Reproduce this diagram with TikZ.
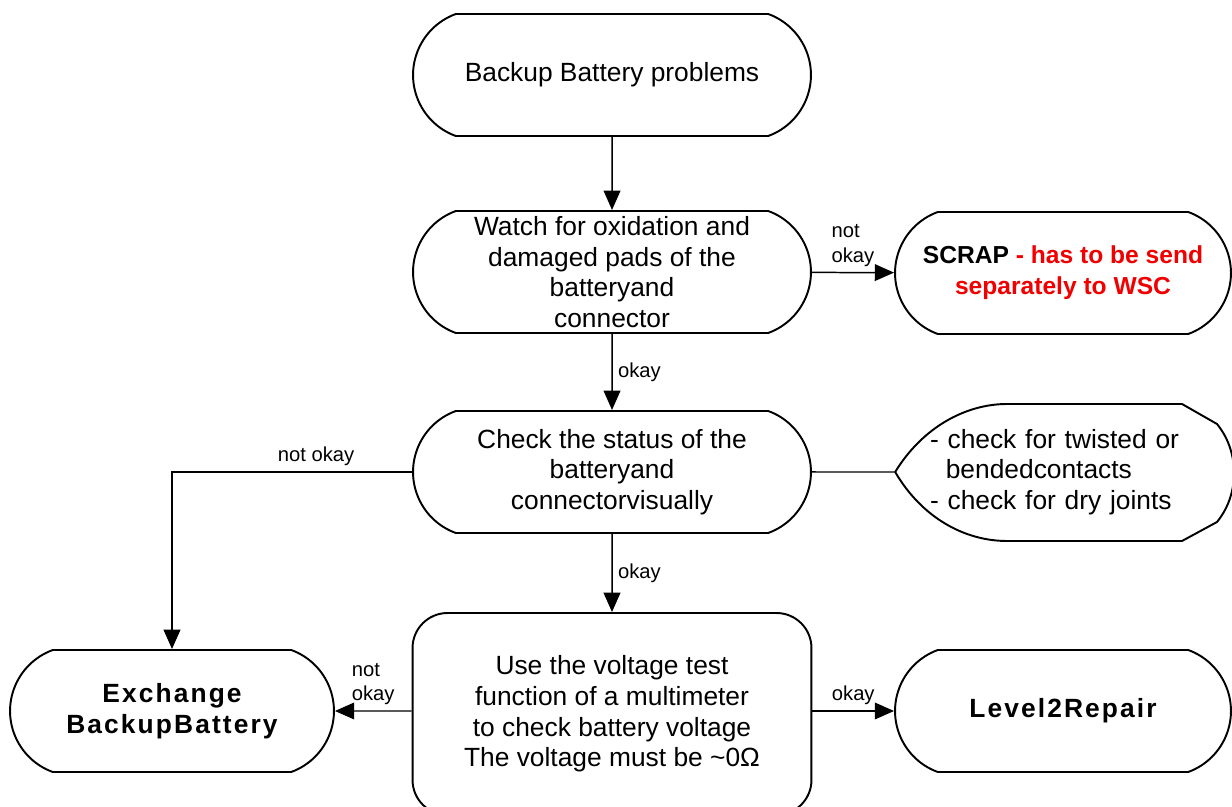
\documentclass[tikz,border=0pt]{standalone}
\usepackage{fontspec}
\setmainfont{Liberation Sans}
\newfontfamily\boldfam[LetterSpace=8]{Liberation Sans}
\usepackage{xcolor}
\usetikzlibrary{arrows.meta,calc,positioning,shapes}
\definecolor{scrapred}{RGB}{240,0,0}

\begin{document}
\begin{tikzpicture}[x=0.02cm,y=-0.02cm,
	box/.style={draw,line width=1.1pt,rounded rectangle,rounded rectangle arc length=140,
		minimum width=8.1cm,minimum height=2.44cm,inner sep=2pt,align=center,
		font=\fontsize{15}{17.5}\selectfont},
	tallbox/.style={draw,line width=1.1pt,rectangle,rounded corners=0.7cm,
		minimum width=7.98cm,minimum height=4.04cm,inner sep=2pt,align=center,
		font=\fontsize{15}{17.5}\selectfont},
	sidebox/.style={box,minimum width=6.86cm},
	boldtext/.style={font=\fontsize{15}{17.5}\selectfont\boldfam\bfseries},
	lbl/.style={font=\fontsize{11.5}{14}\selectfont,inner sep=3pt,align=left},
	flow/.style={line width=0.85pt,-{Triangle[length=11pt,width=9.5pt]}}]
	\useasboundingbox (0,0) rectangle (1232,807);
	\node[box]			(start)	at (612,75)		{Backup Battery problems};
	\node[box]			(watch)	at (612,272)	{Watch for oxidation and\\damaged pads of the\\batteryand\\connector};
	\node[sidebox,font=\fontsize{14}{17.5}\selectfont\bfseries]
						(scrap)	at (1063,273)	{SCRAP \textcolor{scrapred}{- has to be send}\\\textcolor{scrapred}{separately to WSC}};
	\node[box]			(check)	at (612,472)	{Check the status of the\\batteryand\\connectorvisually};
	\node[align=left,minimum width=6.74cm,text width=5.36cm,inner sep=0pt,font=\fontsize{15}{17.5}\selectfont]
						(dry)	at (1064,472)	{- check for twisted or\\\hspace*{0.6em}bendedcontacts\\- check for dry joints};
	\node[tallbox]		(volt)	at (612,714)	{Use the voltage test\\function of a multimeter\\to check battery voltage\\The voltage must be \textasciitilde 0Ω};
	\node[box,boldtext,minimum width=6.62cm]	(exch)	at (172,711)	{Exchange\\BackupBattery};
	\node[sidebox,boldtext]	(level)	at (1063,711)	{Level2Repair};
	\draw[line width=1.1pt] (dry.west) .. controls (922,428) and (965,404) .. (1007,404) -- (1182,404) -- (1217,424)
		.. controls (1230,440) and (1234,458) .. (1234,473) .. controls (1234,488) and (1230,506) .. (1217,522)
		-- (1182,541) -- (1007,541) .. controls (965,541) and (922,518) .. (dry.west);
	\draw[flow]	(start) -- (watch);
	\draw[flow]	(watch) -- node[lbl,right] {okay} (check);
	\draw[flow]	(watch) -- node[lbl,above] {not\\okay} (scrap);
	\draw[flow]	(check) -- node[lbl,right] {okay} (volt);
	\draw[line width=0.85pt]	(check) -- (dry.west);
	\draw[flow]	(check.west) -| node[lbl,pos=0.2,above] {not okay} (exch.north);
	\draw[flow]	(volt.west |- exch) -- node[lbl,above] {not\\okay} (exch);
	\draw[flow]	(volt.east |- level) -- node[lbl,above] {okay} (level);
\end{tikzpicture}
\end{document}
